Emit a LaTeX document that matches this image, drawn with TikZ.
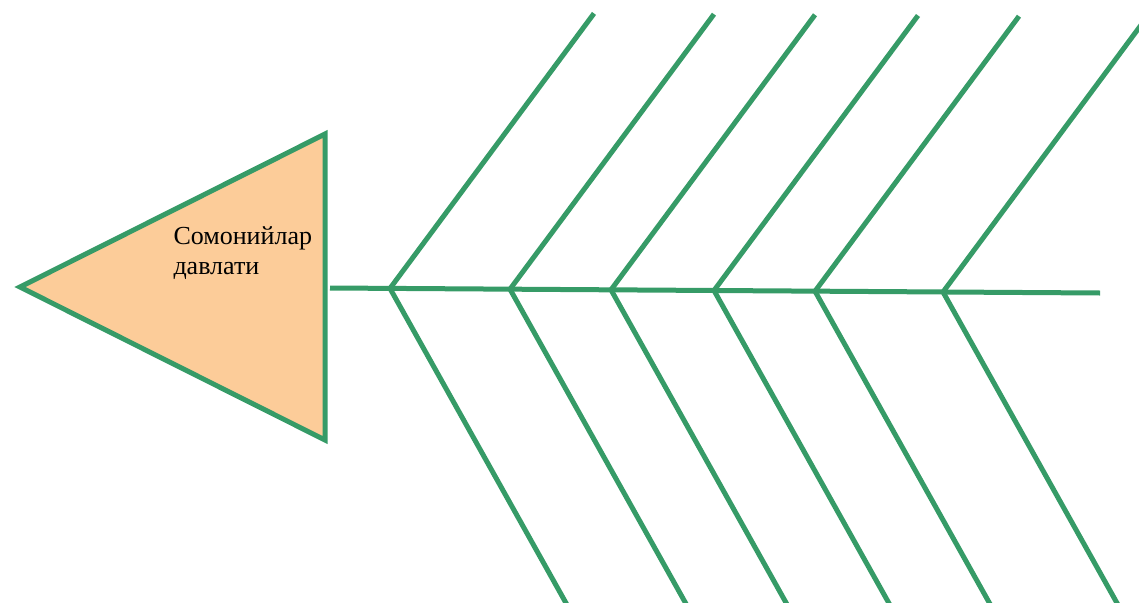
\documentclass[tikz,border=0pt]{standalone}
\usepackage{fontspec}
\setmainfont{Liberation Serif}
\usepackage{tikz}
\usepackage{xcolor}
\definecolor{bonegreen}{RGB}{54, 155, 103}
\definecolor{headpeach}{RGB}{252, 204, 153}

\begin{document}
\begin{tikzpicture}[x=1pt, y=-1pt, line width=5pt, line join=miter]
    \useasboundingbox (0,0) rectangle (1139,602);

    % Head
    \draw[bonegreen, fill=headpeach] (20,287) coordinate (tip) -- (325,134) coordinate (htop)
        -- (325,440) coordinate (hbot) -- cycle;
    \node[anchor=north west, align=left, inner sep=0pt, font=\fontsize{26}{30}\selectfont] (title)
        at (171,224) {Сомонийлар\\давлати};

    % Spine
    \coordinate (sstart) at (330,288);
    \coordinate (send) at (1100,293);
    \draw[bonegreen] (sstart) -- (send);

    % Bones
    \foreach \jx/\jy [count=\i] in {390/288.4, 510/289.2, 611/289.8, 714/290.5, 815/291.2, 943/292} {
        \coordinate (joint\i) at (\jx,\jy);
        \coordinate (up\i) at (\jx+204,\jy-275);
        \coordinate (down\i) at (\jx+179,\jy+320);
        \draw[bonegreen] (up\i) -- (joint\i) -- (down\i);
    }
\end{tikzpicture}
\end{document}
